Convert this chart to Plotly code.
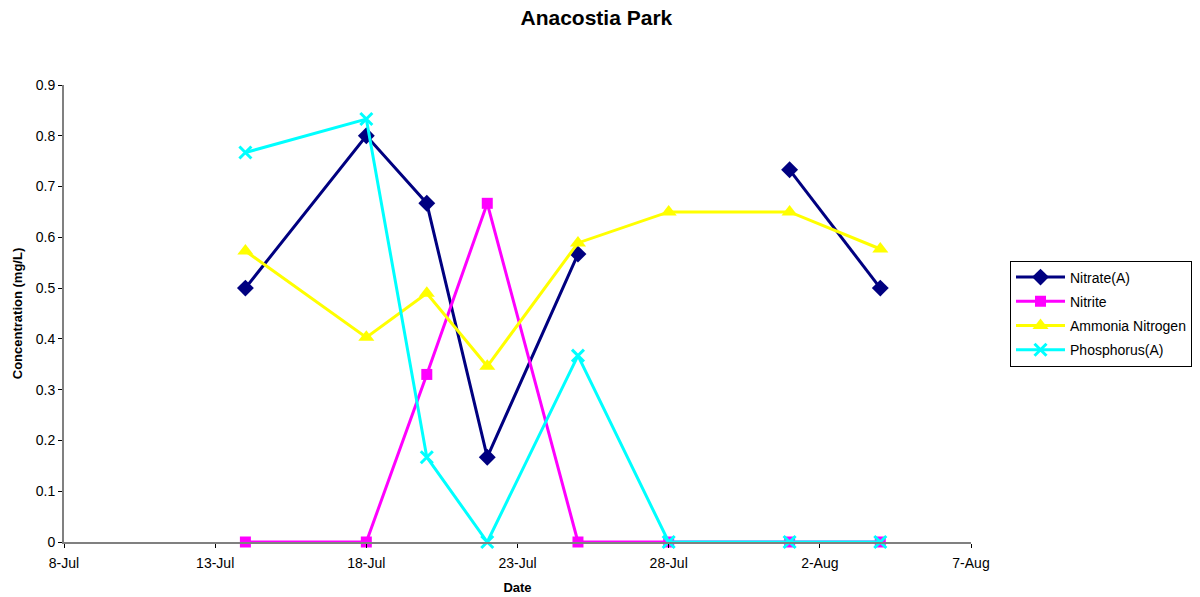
import plotly.graph_objects as go

# Sampling dates and measured concentrations (mg/L)
dates = ["2008-07-14", "2008-07-18", "2008-07-20", "2008-07-22",
         "2008-07-25", "2008-07-28", "2008-08-01", "2008-08-04"]
nitrate = [0.5, 0.8, 0.667, 0.167, 0.567, None, 0.733, 0.5]
nitrite = [0, 0, 0.33, 0.667, 0, 0, 0, 0]
ammonia = [0.573, 0.403, 0.49, 0.346, 0.589, 0.65, 0.65, 0.577]
phosphorus = [0.767, 0.833, 0.167, 0, 0.367, 0, 0, 0]

series = [
    ("Nitrate(A)", nitrate, "#000080", dict(symbol="diamond", size=13)),
    ("Nitrite", nitrite, "#FF00FF", dict(symbol="square", size=11)),
    ("Ammonia Nitrogen", ammonia, "#FFFF00", dict(symbol="triangle-up", size=14)),
    ("Phosphorus(A)", phosphorus, "#00FFFF",
     dict(symbol="x-thin", size=12, line=dict(width=3, color="#00FFFF"))),
]

FONT = "Liberation Sans, Arial"

fig = go.Figure()
for name, vals, color, mk in series:
    fig.add_trace(go.Scatter(
        x=dates, y=vals, name=name, legendgroup=name, mode="lines+markers",
        line=dict(color=color, width=3),
        marker=dict(color=color, **mk),
        connectgaps=False, cliponaxis=False,
    ))

fig.update_layout(
    width=1200, height=597,
    paper_bgcolor="white", plot_bgcolor="white",
    margin=dict(l=64, r=229, t=85, b=55, autoexpand=False),
    font=dict(family=FONT, size=14, color="black"),
    title=dict(text="<b>Anacostia Park</b>", x=0.497, xanchor="center",
               y=0.982, yanchor="top",
               font=dict(family=FONT, size=21, color="black")),
    legend=dict(x=1.043, xanchor="left", y=0.5, yanchor="middle",
                bordercolor="black", borderwidth=1, bgcolor="white",
                font=dict(family=FONT, size=14, color="black"),
                tracegroupgap=3, itemwidth=49),
    xaxis=dict(
        type="date", range=["2008-07-08", "2008-08-07"],
        tick0="2008-07-08", dtick=5 * 86400000, tickformat="%-d-%b",
        showline=True, linecolor="#808080", linewidth=2,
        ticks="outside", ticklen=4, tickcolor="black",
        ticklabelstandoff=3, automargin=False,
        showgrid=False, zeroline=False,
        title=dict(text="<b>Date</b>", standoff=13,
                   font=dict(family=FONT, size=13)),
    ),
    yaxis=dict(
        range=[0, 0.9], dtick=0.1, tick0=0,
        showline=True, linecolor="#808080", linewidth=2,
        ticks="outside", ticklen=4, tickcolor="black",
        automargin=False,
        showgrid=False, zeroline=False,
        title=dict(text="<b>Concentration (mg/L)</b>", standoff=10,
                   font=dict(family=FONT, size=13)),
    ),
)

fig.write_html("out.html")
